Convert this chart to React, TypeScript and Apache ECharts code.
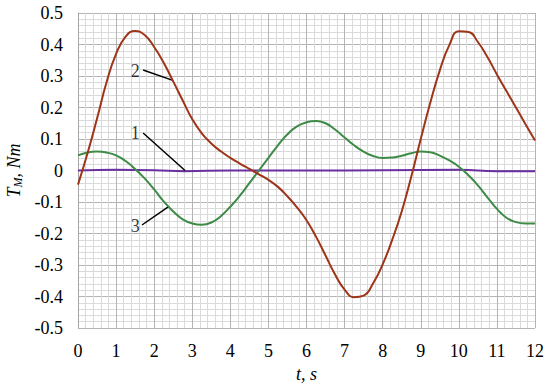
import React, { useEffect, useRef } from "react";
import * as echarts from "echarts";

const tValues = [0, 0.25, 0.5, 0.75, 1, 1.25, 1.5, 1.75, 2, 2.25, 2.5, 2.75, 3, 3.25, 3.5, 3.75, 4, 4.25, 4.5, 4.75, 5, 5.25, 5.5, 5.75, 6, 6.25, 6.5, 6.75, 7, 7.25, 7.5, 7.75, 8, 8.25, 8.5, 8.75, 9, 9.25, 9.5, 9.75, 10, 10.25, 10.5, 10.75, 11, 11.25, 11.5, 11.75, 12];

const curve2 = [-0.045, 0.055, 0.165, 0.28, 0.37, 0.425, 0.443, 0.43, 0.392, 0.342, 0.283, 0.222, 0.163, 0.118, 0.086, 0.061, 0.04, 0.022, 0.005, -0.012, -0.03, -0.052, -0.082, -0.117, -0.158, -0.21, -0.27, -0.33, -0.378, -0.402, -0.397, -0.358, -0.298, -0.22, -0.13, -0.02, 0.1, 0.215, 0.318, 0.398, 0.442, 0.44, 0.408, 0.36, 0.305, 0.252, 0.2, 0.147, 0.095];

const curve3 = [0.048, 0.057, 0.06, 0.057, 0.048, 0.03, 0.005, -0.025, -0.06, -0.098, -0.13, -0.155, -0.168, -0.172, -0.165, -0.145, -0.115, -0.08, -0.04, 0.0, 0.04, 0.08, 0.115, 0.14, 0.153, 0.157, 0.15, 0.13, 0.105, 0.08, 0.06, 0.046, 0.04, 0.041, 0.047, 0.055, 0.06, 0.058, 0.047, 0.032, 0.012, -0.015, -0.047, -0.085, -0.122, -0.15, -0.164, -0.168, -0.168];

const t1 = [0, 1, 2, 2.8, 4, 6, 8, 10, 11, 12];
const curve1 = [0.0, 0.002, 0.001, -0.002, 0.0, 0.0, 0.001, 0.002, -0.002, -0.002];

const labelPoints = [
  [1.5, 0.119, "1"],
  [1.5, 0.316, "2"],
  [1.5, -0.176, "3"],
];
const leaderLines = [
  [[1.71, 0.119], [2.81, 0.0]],
  [[1.71, 0.319], [2.47, 0.287]],
  [[1.68, -0.173], [2.36, -0.116]],
];

const FONT = "Liberation Serif";

export default function App() {
  const ref = useRef<HTMLDivElement>(null);
  useEffect(() => {
    if (!ref.current) return;
    const chart = echarts.init(ref.current, undefined, { renderer: "svg" });
    const zip = (xs: number[], ys: number[]) => xs.map((x, i) => [x, ys[i]]);
    chart.setOption({
      animation: false,
      backgroundColor: "#ffffff",
      textStyle: { fontFamily: FONT },
      grid: { left: 78, right: 15, top: 13, bottom: 62, containLabel: false, outerBoundsMode: "none" },
      xAxis: {
        type: "value",
        min: 0,
        max: 12,
        interval: 1,
        name: "t, s",
        nameLocation: "middle",
        nameGap: 37,
        nameTextStyle: { fontFamily: FONT, fontSize: 18, fontStyle: "italic", color: "#000" },
        axisLine: { show: true, lineStyle: { color: "#a6a6a6", width: 1 } },
        axisTick: { show: false },
        axisLabel: { fontFamily: FONT, fontSize: 18, color: "#000", margin: 14 },
        splitLine: { show: true, lineStyle: { color: "#b4b4b4", width: 1 } },
        minorTick: { show: false, splitNumber: 5 },
        minorSplitLine: { show: true, lineStyle: { color: "#dadada", width: 1 } },
      },
      yAxis: {
        type: "value",
        min: -0.5,
        max: 0.5,
        interval: 0.1,
        name: "{i|T}{s|M}{i|, Nm}",
        nameLocation: "middle",
        nameRotate: 90,
        nameGap: 46,
        nameTextStyle: {
          fontFamily: FONT,
          fontSize: 18,
          fontStyle: "italic",
          color: "#000",
          rich: {
            i: { fontFamily: FONT, fontSize: 18, fontStyle: "italic", color: "#000" },
            s: { fontFamily: FONT, fontSize: 12, fontStyle: "italic", color: "#000", verticalAlign: "bottom", padding: [8, 0, 0, 0] },
          },
        },
        axisLine: { show: true, lineStyle: { color: "#a6a6a6", width: 1 } },
        axisTick: { show: false },
        axisLabel: {
          fontFamily: FONT,
          fontSize: 18,
          color: "#000",
          margin: 15,
          formatter: (v: number) => String(Math.round(v * 10) / 10),
        },
        splitLine: { show: true, lineStyle: { color: "#b4b4b4", width: 1 } },
        minorTick: { show: false, splitNumber: 5 },
        minorSplitLine: { show: true, lineStyle: { color: "#dadada", width: 1 } },
      },
      series: [
        {
          name: "1",
          type: "line",
          data: zip(t1, curve1),
          smooth: true,
          showSymbol: false,
          lineStyle: { color: "#6a2fa0", width: 2 },
          z: 3,
        },
        {
          name: "3",
          type: "line",
          data: zip(tValues, curve3),
          smooth: true,
          showSymbol: false,
          lineStyle: { color: "#3d8b47", width: 2 },
          z: 4,
        },
        {
          name: "2",
          type: "line",
          data: zip(tValues, curve2),
          smooth: true,
          showSymbol: false,
          lineStyle: { color: "#9e3418", width: 2 },
          z: 5,
        },
        {
          name: "labels",
          type: "scatter",
          data: labelPoints,
          symbolSize: 0,
          silent: true,
          label: {
            show: true,
            position: "inside",
            formatter: (p: any) => p.value[2],
            fontFamily: FONT,
            fontSize: 18,
            color: "#000",
          },
          markLine: {
            silent: true,
            symbol: ["none", "none"],
            label: { show: false },
            lineStyle: { color: "#000", width: 1.5, type: "solid" },
            data: leaderLines.map(([a, b]) => [{ coord: a }, { coord: b }]),
          },
          z: 6,
        },
      ],
    });
    return () => chart.dispose();
  }, []);
  return <div ref={ref} style={{ position: "fixed", left: 0, top: 0, width: 550, height: 390 }} />;
}
